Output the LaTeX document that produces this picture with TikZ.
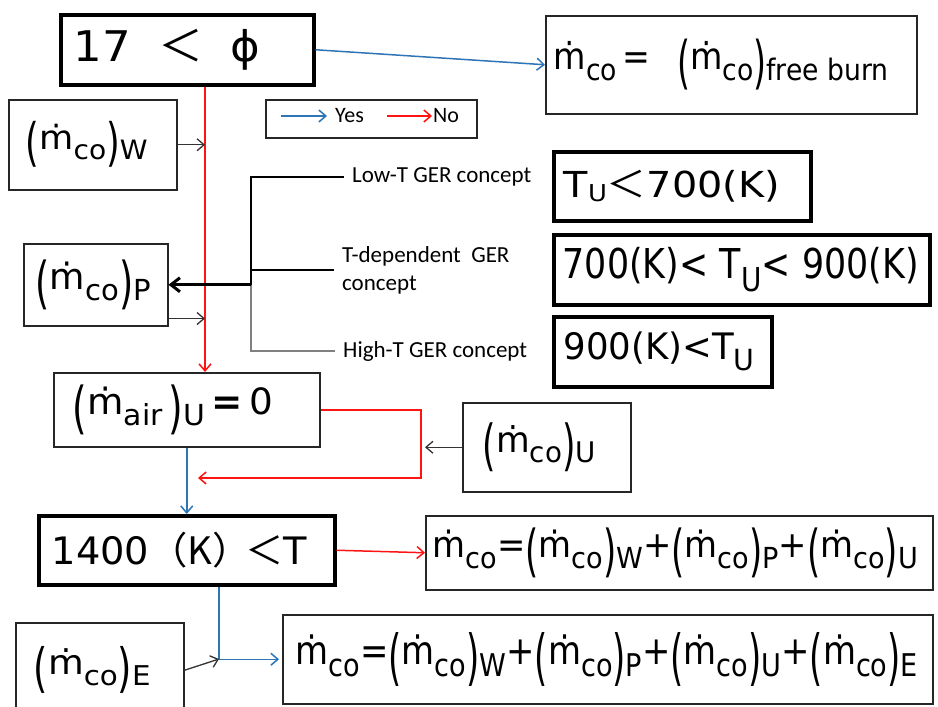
\documentclass[tikz,border=0pt]{standalone}
\usepackage{fontspec}
\usepackage{xcolor}
\usepackage{graphicx}
\usepackage{tikz}
\usetikzlibrary{arrows.meta}
\setmainfont{DejaVu Sans}
\newfontfamily\lblfont{Carlito}
\newfontfamily\cjk{Noto Sans CJK JP}

\definecolor{yesblue}{RGB}{46,117,182}
\definecolor{nored}{RGB}{255,20,20}

% pieces of the mass-rate formulas
\newcommand{\lowsub}[1]{\raisebox{-0.3em}{\scalebox{0.8}{#1}}}
\newcommand{\lpar}{\raisebox{-0.35em}{\scalebox{1}[1.55]{(}}}
\newcommand{\rpar}{\raisebox{-0.35em}{\scalebox{1}[1.55]{)}}}
\newcommand{\mco}{\lpar ṁ\lowsub{co}\rpar}
\newcommand{\fitbox}[3]{\resizebox*{#1pt}{#2pt}{#3}}

\begin{document}
\begin{tikzpicture}[x=1pt,y=-1pt,>={Straight Barb[length=7pt,width=12pt]}]
      \tikzstyle{box} = [draw=black!85, line width=1.5pt, anchor=north west, align=left, inner ysep=0pt]
      \tikzstyle{bbox} = [box, draw=black, line width=3.5pt]
      \tikzstyle{lbl} = [font=\lblfont\fontsize{23}{28}\selectfont, anchor=west, inner xsep=8pt, inner ysep=1pt, align=left]
      \tikzstyle{yes} = [draw=yesblue, line width=1.5pt, ->]
      \tikzstyle{no} = [draw=nored, line width=1.5pt, ->]
      \tikzstyle{feed} = [draw=black!80, line width=1.3pt, ->]

      \clip (0,0) rectangle (938,707);

      % decisions and results
      \node (phi) [bbox, minimum height=70pt, inner xsep=13pt, text width=227pt] at (59,13) {\fitbox{186}{41}{17\hspace{0.6em}{\cjk ＜}\hspace{0.6em}ϕ}};
      \node (free) [box, minimum height=98pt, inner xsep=8pt, text width=355pt] at (545,15) {\fitbox{335}{51}{ṁ\lowsub{co}\,=\hspace{0.8em}\mco\lowsub{free burn}}};
      \node (W) [box, minimum height=90pt, inner xsep=17pt, text width=134pt] at (8,99) {\fitbox{122}{46}{\mco\lowsub{W}}};
      \node (lg) [box, minimum width=211pt, minimum height=38pt, inner sep=0pt] at (265,99) {};
      \node (tu1) [bbox, minimum height=69pt, inner xsep=10pt, text width=237pt] at (552,150) {\fitbox{216}{32}{T\raisebox{-0.1em}{\scalebox{0.65}{U}}{\cjk ＜}700(K)}};
      \node (tu2) [bbox, minimum height=70pt, inner xsep=9pt, text width=358pt] at (552,233) {\fitbox{356}{44}{700(K)< T\lowsub{U}< 900(K)}};
      \node (tu3) [bbox, minimum height=70pt, inner xsep=10pt, text width=198pt] at (552,315) {\fitbox{191}{39}{900(K)<T\lowsub{U}}};
      \node (P) [box, minimum height=82pt, inner xsep=12pt, text width=120pt] at (23,243) {\fitbox{115}{50}{\mco\lowsub{P}}};
      \node (air) [box, minimum height=74pt, inner xsep=19pt, text width=228pt] at (53,372) {\fitbox{200}{50}{\lpar ṁ\lowsub{air}\,\rpar\lowsub{U}\,\textbf{=}\,0}};
      \node (U) [box, minimum height=89pt, inner xsep=20pt, text width=128pt] at (462,402) {\fitbox{113}{49}{\mco\lowsub{U}}};
      \node (T1400) [bbox, minimum height=69pt, inner xsep=13pt, text width=270pt] at (37,514) {\fitbox{255}{36}{1400{\cjk （K）}\hspace{-0.15em}{\cjk ＜}T}};
      \node (sum3) [box, minimum height=74pt, inner xsep=7pt, text width=493pt] at (425,515) {\fitbox{485}{50}{ṁ\lowsub{co}=\mco\lowsub{W}+\mco\lowsub{P}+\mco\lowsub{U}}};
      \node (E) [box, minimum height=95pt, inner xsep=18pt, text width=132pt] at (15,622) {\fitbox{117}{47}{\mco\lowsub{E}}};
      \node (sum4) [box, minimum height=89pt, inner xsep=13pt, text width=624pt] at (282,614) {\fitbox{622}{54}{ṁ\lowsub{co}=\mco\lowsub{W}+\mco\lowsub{P}+\mco\lowsub{U}+\mco\lowsub{E}}};

      % concept labels and legend
      \node (lowT) [lbl] at (344,177) {Low-T GER concept};
      \node (tdep) [lbl] at (334,270) {T-dependent\ \ GER\\concept};
      \node (highT) [lbl] at (335,351) {High-T GER concept};
      \node (yestxt) [lbl, font=\lblfont\fontsize{22}{26}\selectfont] at (327,116) {Yes};
      \node (notxt) [lbl, font=\lblfont\fontsize{22}{26}\selectfont, inner xsep=1pt] at (432,116) {No};

      \coordinate (redx) at (205,0);
      \coordinate (brx) at (251,0);
      \coordinate (rloop) at (421,478);
      \coordinate (rend) at (198,478);
      \coordinate (jn) at (219,659);
      \coordinate (pout) at ([yshift=8pt]P.south east);
      \coordinate (ya) at (281,116);
      \coordinate (na) at (387,116);

      \draw [yes] (ya) -- (yestxt.west);
      \draw [no] (na) -- (notxt.west);

      \draw [yes] (phi.east) -- (free.west);
      \draw [no] (phi.south -| redx) -- (air.north -| redx);
      \draw [feed] (W.east) -- (W.east -| redx);
      \draw [feed] (pout) -- (pout -| redx);

      % bracket of the three concepts
      \draw [line width=1.5pt] (lowT.west) -- (lowT.west -| brx) -- (brx |- P.east);
      \draw [line width=1.5pt] (tdep.west) -- (tdep.west -| brx);
      \draw [gray, line width=2.5pt] (brx |- P.east) -- (brx |- highT.west) -- (highT.west);
      \draw [line width=3pt, -{Straight Barb[length=9pt,width=14pt]}] (brx |- P.east) -- (P.east);

      \draw [no] (air.east) -| (rloop) -- (rend);
      \draw [feed, shorten >=4pt] (U.west) -- (U.west -| rloop);
      \draw [yes] (air.south) -- (air.south |- T1400.north);
      \draw [no] (T1400.east) -- (sum3.west);
      \draw [yes, shorten >=3pt] (T1400.south -| jn) |- (sum4.west);
      \draw [feed] (E.east) -- (jn);
\end{tikzpicture}
\end{document}
